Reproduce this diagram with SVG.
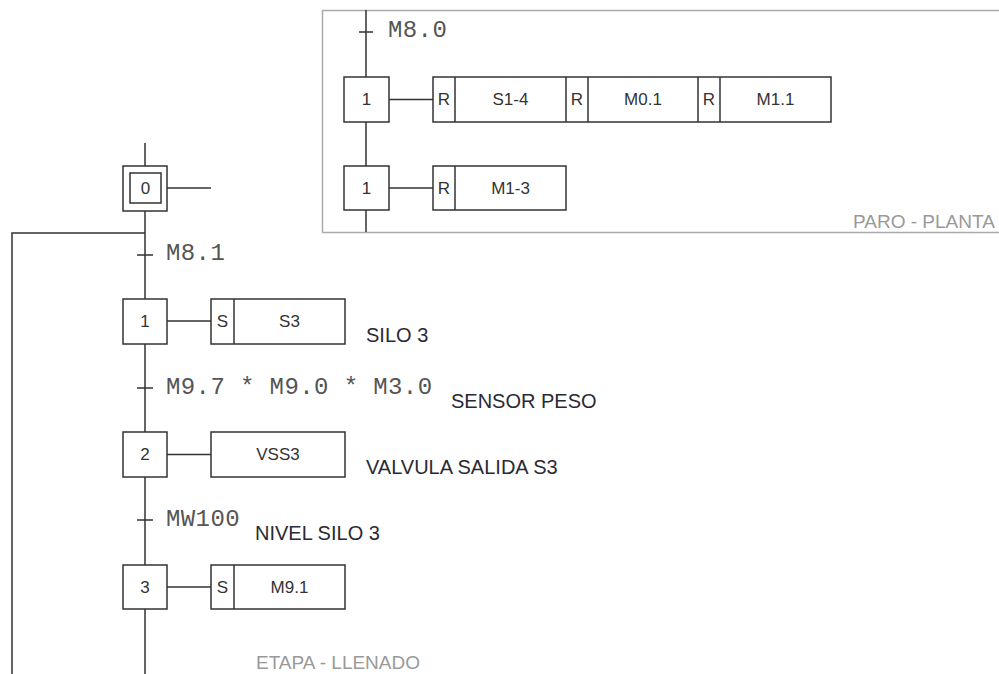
<svg xmlns="http://www.w3.org/2000/svg" width="999" height="674" viewBox="0 0 999 674">
<style>
.ln{stroke:#333;stroke-width:1.5;fill:none}
.bx{stroke:#333;stroke-width:1.5;fill:#fff}
.num{font-family:"Liberation Sans",Arial,sans-serif;font-size:17px;fill:#333;text-anchor:middle}
.act{font-family:"Liberation Sans",Arial,sans-serif;font-size:17px;fill:#333;text-anchor:middle}
.cond{font-family:"Liberation Mono","Courier New",monospace;font-size:24px;letter-spacing:0.4px;fill:#555}
.lbl{font-family:"Liberation Sans",Arial,sans-serif;font-size:20px;fill:#2a2a35}
.grey{font-family:"Liberation Sans",Arial,sans-serif;font-size:19px;fill:#999}
</style>
<rect x="0" y="0" width="999" height="674" fill="#fff"/>
<g id="panel-paro">
<path d="M1005,10.5 H322.5 V232.5 H1005" stroke="#aaa" stroke-width="1.5" fill="none"/>
<text class="grey" x="853" y="228">PARO - PLANTA</text>
</g>
<g id="connectors">
<path class="ln" d="M366,10 V77 M366,122 V166 M366,210 V232"/>
<path class="ln" d="M359,32 H373"/>
<path class="ln" d="M389,99.5 H433 M389,188 H433"/>
<path class="ln" d="M145,143 V166 M145,211 V299 M145,344 V432 M145,477 V565 M145,609 V674"/>
<path class="ln" d="M145,233 H12 V674"/>
<path class="ln" d="M167,188 H211"/>
<path class="ln" d="M137,255 H153 M137,388 H153 M137,520 H153"/>
<path class="ln" d="M167,321 H211 M167,454.5 H211 M167,587 H211"/>
</g>
<g id="trans-m80"><text class="cond" x="388" y="37">M8.0</text></g>
<g id="step-p1a">
<rect class="bx" x="344" y="77" width="45" height="45"/>
<text class="num" x="366.5" y="105">1</text>
</g>
<g id="action-p1a">
<rect class="bx" x="433" y="77" width="398" height="45"/>
<path class="ln" d="M455,77 V122 M566,77 V122 M588,77 V122 M698,77 V122 M720,77 V122"/>
<text class="act" x="444" y="105">R</text>
<text class="act" x="510.5" y="105">S1-4</text>
<text class="act" x="577" y="105">R</text>
<text class="act" x="643" y="105">M0.1</text>
<text class="act" x="709" y="105">R</text>
<text class="act" x="775.5" y="105">M1.1</text>
</g>
<g id="step-p1b">
<rect class="bx" x="344" y="166" width="45" height="44"/>
<text class="num" x="366.5" y="194">1</text>
</g>
<g id="action-p1b">
<rect class="bx" x="433" y="166" width="133" height="44"/>
<path class="ln" d="M455,166 V210"/>
<text class="act" x="444" y="194">R</text>
<text class="act" x="510.5" y="194">M1-3</text>
</g>
<g id="step-0">
<rect class="bx" x="123" y="166" width="44" height="45"/>
<rect class="bx" x="130" y="173" width="31" height="30"/>
<text class="num" x="145.5" y="194">0</text>
</g>
<g id="trans-m81"><text class="cond" x="166" y="260">M8.1</text></g>
<g id="step-1">
<rect class="bx" x="123" y="299" width="44" height="45"/>
<text class="num" x="145" y="327">1</text>
</g>
<g id="action-1">
<rect class="bx" x="211" y="299" width="134" height="45"/>
<path class="ln" d="M234,299 V344"/>
<text class="act" x="222.5" y="327">S</text>
<text class="act" x="289.5" y="327">S3</text>
<text class="lbl" x="366" y="342">SILO 3</text>
</g>
<g id="trans-1">
<text class="cond" x="166" y="394">M9.7 * M9.0 * M3.0</text>
<text class="lbl" x="451" y="408">SENSOR PESO</text>
</g>
<g id="step-2">
<rect class="bx" x="123" y="432" width="44" height="45"/>
<text class="num" x="145" y="460">2</text>
</g>
<g id="action-2">
<rect class="bx" x="211" y="432" width="134" height="45"/>
<text class="act" x="278" y="460">VSS3</text>
<text class="lbl" x="366" y="474">VALVULA SALIDA S3</text>
</g>
<g id="trans-2">
<text class="cond" x="166" y="526">MW100</text>
<text class="lbl" x="255" y="540">NIVEL SILO 3</text>
</g>
<g id="step-3">
<rect class="bx" x="123" y="565" width="44" height="44"/>
<text class="num" x="145" y="593">3</text>
</g>
<g id="action-3">
<rect class="bx" x="211" y="565" width="134" height="44"/>
<path class="ln" d="M234,565 V609"/>
<text class="act" x="222.5" y="593">S</text>
<text class="act" x="289.5" y="593">M9.1</text>
</g>
<text class="grey" x="256" y="669">ETAPA - LLENADO</text>
</svg>
